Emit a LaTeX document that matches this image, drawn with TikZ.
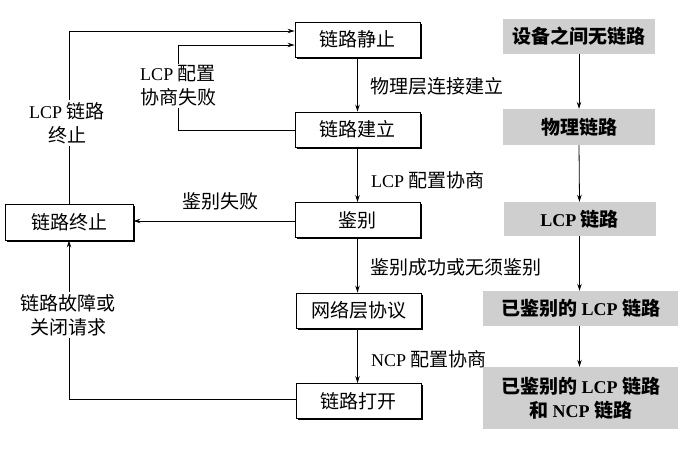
\documentclass[tikz,border=0pt]{standalone}
\usepackage{fontspec}
\setmainfont{Liberation Serif}
\newfontfamily\cjk{Noto Sans CJK SC}
\newcommand{\zh}[1]{{\cjk\fontsize{19}{24}\selectfont #1}}
\usetikzlibrary{arrows.meta,shadows}
\begin{document}
\begin{tikzpicture}[x=1pt,y=-1pt,
  every node/.style={font=\fontsize{18}{24}\selectfont, inner sep=0pt},
  state/.style={draw, line width=0.9pt, fill=white, minimum width=125pt, minimum height=35pt,
     drop shadow={shadow xshift=1.6pt, shadow yshift=-1.6pt, fill=black, opacity=1}},
  phase/.style={fill=gray!38, minimum width=152pt, minimum height=35pt, align=center, font=\fontsize{18}{24}\selectfont\bfseries},
  lbl/.style={fill=white, align=center, inner sep=2pt},
  arr/.style={line width=0.8pt, -{Stealth[length=7pt,width=4.5pt]}},
  ln/.style={line width=0.8pt}
]
\useasboundingbox (0,0) rectangle (700,448);
\fill[white] (0,0) rectangle (700,448);

% left state machine
\node[state] (s1) at (357.5,39.5) {\zh{链路静止}};
\node[state] (s2) at (357.5,129.5) {\zh{链路建立}};
\node[state] (s3) at (357.5,220) {\zh{鉴别}};
\node[state] (s4) at (358.5,310.5) {\zh{网络层协议}};
\node[state] (s5) at (358.5,401) {\zh{链路打开}};
\node[state, minimum width=128pt, minimum height=36pt] (t) at (69,222) {\zh{链路终止}};

\draw[arr] (s1.south) -- (s2.north);
\draw[arr] (s2.south) -- (s3.north);
\draw[arr] (s3.south) -- (s4.north -| s3.south);
\draw[arr] (s4.south -| s3.south) -- (s5.north -| s3.south);

\node[anchor=west] (l1) at (370,86) {\zh{物理层连接建立}};
\node[anchor=west] (l2) at (371,180) {LCP \zh{配置协商}};
\node[anchor=west] (l3) at (370,267) {\zh{鉴别成功或无须鉴别}};
\node[anchor=west] (l4) at (371,359) {NCP \zh{配置协商}};

% loops
\coordinate (c1) at (69,31);
\draw[arr] (t.north) -- (c1) -- (c1 -| s1.west);
\node[lbl] (lt) at (67,123) {LCP \zh{链路}\\\zh{终止}};

\coordinate (c2) at (178,130);
\coordinate (c3) at (178,45);
\draw[arr] (s2.west |- c2) -- (c2) -- (c3) -- (c3 -| s1.west);
\node[lbl] (lf) at (178,86) {LCP \zh{配置}\\\zh{协商失败}};

\draw[arr] (s3.west |- 0,221) -- (t.east |- 0,221);
\node (la) at (220,201) {\zh{鉴别失败}};

\coordinate (c4) at (69,399);
\draw[arr] (s5.west |- c4) -- (c4) -- (t.south);
\node[lbl] (lc) at (68,315) {\zh{链路故障或}\\\zh{关闭请求}};

% right phases
\node[phase] (r1) at (579,36) {\zh{设备之间无链路}};
\node[phase, minimum height=36pt] (r2) at (579,127) {\zh{物理链路}};
\node[phase, minimum height=34pt] (r3) at (579.5,219) {LCP \zh{链路}};
\node[phase, minimum width=195pt] (r4) at (580.5,308.5) {\zh{已鉴别的} LCP \zh{链路}};
\node[phase, minimum width=195pt, minimum height=62pt] (r5) at (580.5,398) {\zh{已鉴别的} LCP \zh{链路}\\\zh{和} NCP \zh{链路}};

\draw[arr] (r1.south) -- (r2.north);
\draw[arr] (r2.south) -- (r3.north);
\draw[arr] (r3.south) -- (r4.north -| r3.south);
\draw[arr] (r4.south -| r3.south) -- (r5.north -| r3.south);
\end{tikzpicture}
\end{document}
